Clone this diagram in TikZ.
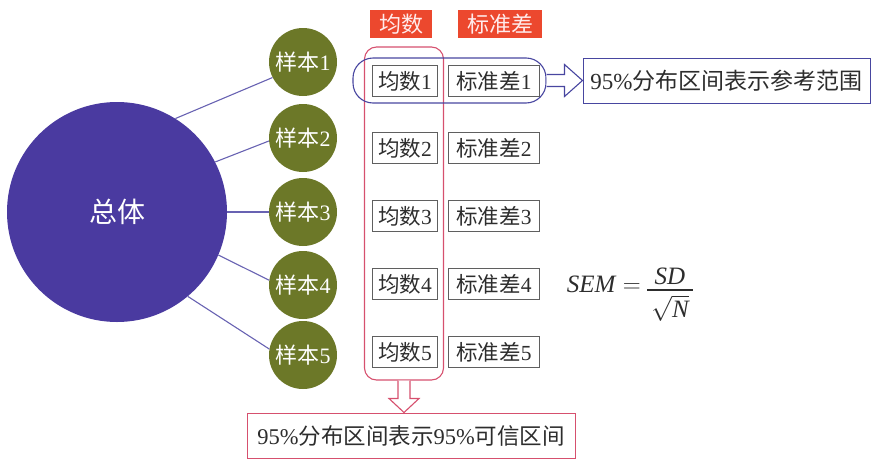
\documentclass[tikz,border=0pt]{standalone}
\usepackage{fontspec}
\setmainfont{Liberation Serif}
\newfontfamily\cjk{Noto Sans CJK SC}
\usetikzlibrary{calc}
\definecolor{popc}{RGB}{74,58,160}
\definecolor{olive}{RGB}{108,120,40}
\definecolor{hdr}{RGB}{236,72,46}
\definecolor{redc}{RGB}{214,80,110}
\definecolor{bluec}{RGB}{72,70,160}
\definecolor{linec}{RGB}{104,98,178}
\definecolor{boxc}{RGB}{95,95,95}
\definecolor{txt}{RGB}{45,45,45}
\newcommand{\fs}[1]{\fontsize{#1}{#1}\selectfont}
\tikzset{
  sample/.style={circle, fill=olive, minimum size=68pt, inner sep=0pt, text=white, font=\fs{22}},
  conn/.style={draw=linec, line width=1.1pt},
  meanb/.style={draw=boxc, line width=0.8pt, minimum width=65pt, minimum height=31pt, inner sep=0pt, text=txt, font=\fs{21.5}},
  sdb/.style={meanb, minimum width=91pt},
  header/.style={fill=hdr, text=white!92!red, minimum height=28pt, inner sep=0pt, font=\fs{22}},
  hollow/.style={line width=1.1pt, fill=white},
  formula/.style={text=txt, font=\fs{25}, inner sep=0pt},
}
\begin{document}
\begin{tikzpicture}[x=1pt,y=-1pt]
\useasboundingbox (0,0) rectangle (877,458);
% population
\node[circle, fill=popc, minimum size=220pt, inner sep=0pt, text=white, font=\fs{28}] (pop) at (117,212) {\cjk 总体};
% samples
\node[sample] (s1) at (303,62) {{\cjk 样本}1};
\node[sample] (s2) at (303,138) {{\cjk 样本}2};
\node[sample] (s3) at (303,212) {{\cjk 样本}3};
\node[sample] (s4) at (303,285) {{\cjk 样本}4};
\node[sample] (s5) at (303,355) {{\cjk 样本}5};
\draw[conn] (pop.58) -- (s1.207);
\draw[conn] (pop.27) -- (s2.185);
\draw[conn] (pop.0) -- (s3.180);
\draw[conn] (pop.-23) -- (s4.172);
\draw[conn] (pop.-50) -- (s5.170);
% headers
\node[header, minimum width=62pt] (hm) at (401,24) {\cjk 均数};
\node[header, minimum width=84pt] (hs) at (500,24) {\cjk 标准差};
% boxes
\node[meanb] (m1) at (405,81) {{\cjk 均数}1};
\node[meanb] (m2) at (405,148) {{\cjk 均数}2};
\node[meanb] (m3) at (405,216) {{\cjk 均数}3};
\node[meanb] (m4) at (405,284) {{\cjk 均数}4};
\node[meanb] (m5) at (405,352) {{\cjk 均数}5};
\node[sdb] (d1) at (494,81) {{\cjk 标准差}1};
\node[sdb] (d2) at (494,148) {{\cjk 标准差}2};
\node[sdb] (d3) at (494,216) {{\cjk 标准差}3};
\node[sdb] (d4) at (494,284) {{\cjk 标准差}4};
\node[sdb] (d5) at (494,352) {{\cjk 标准差}5};
% groupings
\node[draw=redc, line width=1.1pt, rounded corners=12pt, minimum width=79pt, minimum height=333pt, inner sep=0pt] (meanbox) at (404,213.5) {};
\node[draw=bluec, line width=1.1pt, rounded corners=20pt, minimum width=193pt, minimum height=45pt, inner sep=0pt] (row1) at (449.5,80.5) {};
% result boxes
\node[draw=bluec, line width=1pt, minimum width=287pt, minimum height=45pt, inner sep=0pt, text=txt, font=\fs{23}] (rbox) at (726.5,80.5) {95\%{\cjk 分布区间表示参考范围}};
\node[draw=redc, line width=1pt, minimum width=328pt, minimum height=45pt, inner sep=0pt, text=txt, font=\fs{22.5}] (bbox) at (411,435.5) {95\%{\cjk 分布区间表示}95\%{\cjk 可信区间}};
% hollow arrows
\draw[hollow, draw=bluec] ($(row1.east)+(0,-6)$) -- ($(rbox.west)+(-18,-6)$) -- ($(rbox.west)+(-18,-16)$) -- (rbox.west) -- ($(rbox.west)+(-18,16)$) -- ($(rbox.west)+(-18,6)$) -- ($(row1.east)+(0,6)$);
\coordinate (dt) at (meanbox.south |- bbox.north);
\draw[hollow, draw=redc] ($(meanbox.south)+(-6,0)$) -- ($(dt)+(-6,-14)$) -- ($(dt)+(-15,-14)$) -- (dt) -- ($(dt)+(15,-14)$) -- ($(dt)+(6,-14)$) -- ($(meanbox.south)+(6,0)$);
% formula
\node[formula, anchor=east] (lhs) at (641,284) {\textit{SEM} $=$};
\node[formula, anchor=south] (num) at (670,285) {\textit{SD}};
\node[formula, anchor=north] (den) at (670,295) {$\sqrt{\textit{N}}$};
\draw[draw=txt, line width=1.1pt] (647,290) -- (693,290);
\end{tikzpicture}
\end{document}
